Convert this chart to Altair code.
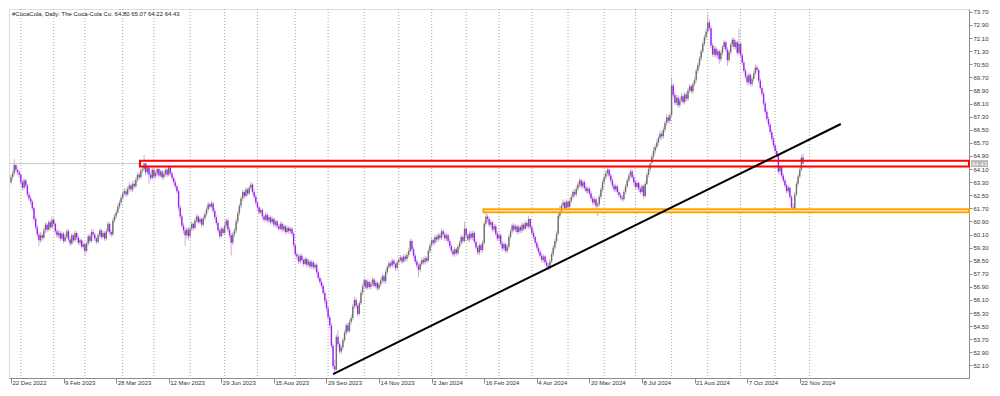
import altair as alt
import pandas as pd

# ---------------- data ----------------
first_open = 63.30
closes = [
    63.60, 63.85, 64.35, 64.05, 63.90, 63.75, 63.30, 62.95, 63.40, 63.10,
    62.55, 62.30, 62.10, 61.70, 61.05, 60.55, 60.10, 59.75, 60.05, 59.90,
    60.35, 60.70, 60.40, 60.85, 60.55, 61.00, 60.75, 60.30, 60.05, 60.20,
    59.85, 60.15, 59.70, 59.95, 60.30, 59.80, 59.55, 60.05, 59.75, 60.20,
    59.90, 59.60, 59.75, 59.35, 59.50, 59.10, 59.55, 60.00, 59.70, 60.25,
    60.10, 59.85, 59.65, 60.05, 60.35, 59.95, 60.20, 59.85, 60.30, 60.75,
    60.25, 60.10, 60.95, 61.20, 61.45, 61.80, 62.05, 62.35, 62.60, 62.75,
    62.55, 62.90, 63.10, 62.85, 63.20, 63.05, 63.45, 63.75, 63.60, 64.00,
    64.10, 64.45, 63.90, 64.20, 63.75, 63.55, 64.05, 63.65, 63.85, 64.10,
    63.70, 63.95, 63.60, 63.80, 64.05, 63.75, 64.20, 63.85, 63.55, 63.30,
    63.05, 62.75, 61.75, 61.20, 60.65, 60.35, 60.05, 60.40, 60.00, 60.45,
    60.75, 60.50, 60.95, 61.20, 60.85, 61.05, 60.70, 61.10, 61.35, 61.65,
    61.95, 61.80, 62.00, 61.55, 61.15, 60.80, 60.35, 60.00, 60.45, 60.20,
    60.65, 60.95, 60.40, 60.05, 59.60, 60.10, 60.35, 60.90, 61.40, 61.85,
    62.30, 62.70, 62.45, 62.85, 62.60, 62.95, 63.15, 62.70, 62.40, 62.05,
    61.75, 61.45, 61.60, 61.20, 61.00, 61.30, 60.95, 61.15, 60.85, 61.05,
    60.70, 60.90, 60.60, 60.45, 60.75, 60.40, 60.60, 60.25, 60.50, 60.30,
    60.45, 60.15, 59.45, 58.90, 58.75, 58.45, 58.80, 58.55, 58.30, 58.60,
    58.25, 58.45, 58.15, 58.40, 58.10, 58.25, 57.80, 57.45, 57.20, 56.95,
    56.55, 56.05, 55.60, 55.05, 54.55, 53.30, 52.05, 51.85, 53.85, 53.40,
    52.95, 53.20, 53.65, 54.10, 54.55, 54.20, 54.75, 55.00, 55.70, 56.10,
    55.75, 55.25, 55.90, 56.55, 56.95, 57.30, 56.85, 57.20, 56.90, 57.10,
    57.35, 56.95, 57.15, 56.80, 57.05, 57.30, 57.55, 57.25, 57.80, 58.10,
    58.35, 58.20, 58.50, 58.30, 58.05, 58.40, 58.55, 58.70, 58.45, 58.75,
    58.60, 58.85, 59.10, 59.70, 59.20, 58.80, 58.45, 58.20, 57.95, 58.30,
    58.55, 58.40, 58.65, 58.50, 59.10, 59.45, 59.75, 59.60, 59.95, 59.80,
    60.05, 59.90, 60.30, 60.10, 59.85, 60.05, 59.70, 59.40, 59.10, 58.90,
    59.20, 58.95, 59.35, 59.60, 59.95, 59.70, 60.45, 60.05, 59.80, 60.15,
    59.90, 60.20, 59.65, 59.30, 59.00, 59.45, 59.15, 59.60, 60.75, 61.20,
    61.05, 60.70, 60.85, 60.40, 60.60, 60.15, 59.85, 60.05, 59.55, 59.25,
    59.50, 59.10, 59.35, 59.95, 60.30, 60.65, 60.40, 60.60, 60.25, 60.55,
    60.35, 60.70, 60.45, 60.80, 60.60, 61.05, 60.55, 60.20, 59.95, 59.60,
    59.30, 59.05, 58.80, 58.55, 58.75, 58.40, 58.20, 58.05, 58.45, 58.90,
    59.30, 59.70, 60.15, 61.25, 61.50, 61.85, 62.05, 61.70, 62.10, 61.80,
    62.15, 62.40, 62.70, 62.55, 62.90, 63.15, 63.40, 63.05, 63.30, 62.95,
    62.75, 62.90, 62.60, 62.30, 62.05, 62.25, 61.85, 61.95, 62.40, 62.85,
    63.30, 63.60, 63.85, 64.05, 63.70, 63.40, 63.10, 62.85, 63.05, 62.70,
    62.50, 62.35, 62.25, 62.70, 63.05, 63.40, 63.70, 63.95, 63.60, 63.30,
    63.00, 63.25, 62.90, 62.70, 63.05, 62.45, 63.20, 63.75, 64.10, 64.45,
    64.85, 65.20, 65.45, 65.70, 66.00, 66.25, 66.10, 66.50, 66.90, 67.25,
    67.05, 67.40, 69.20, 68.60, 68.15, 68.45, 68.00, 68.30, 68.55, 68.20,
    68.65, 68.40, 68.90, 69.15, 68.85, 69.30, 69.55, 70.10, 70.45, 70.85,
    71.30, 71.75, 72.15, 72.50, 73.05, 72.70, 71.65, 71.10, 71.45, 71.05,
    71.30, 70.80, 71.20, 71.55, 71.85, 71.40, 70.75, 71.25, 71.70, 72.00,
    71.55, 71.85, 71.20, 71.75, 71.05, 70.60, 70.10, 69.75, 69.40, 69.85,
    69.30, 69.60, 69.95, 70.30, 70.15, 69.50, 69.05, 68.70, 68.10, 67.60,
    67.15, 66.80, 66.35, 65.95, 65.55, 65.20, 64.95, 63.95, 64.25, 63.70,
    63.40, 63.10, 62.75, 62.95, 62.40, 61.75, 61.70, 62.55, 63.20, 63.65,
    64.05, 64.80, 64.43,
]
highs = [
    63.75, 64.00, 64.70, 64.40, 64.20, 64.05, 63.85, 63.45, 63.55, 63.50,
    63.20, 62.70, 62.45, 62.20, 61.80, 61.20, 60.70, 60.25, 60.25, 60.20,
    60.50, 60.85, 60.80, 61.00, 60.95, 61.20, 61.10, 60.85, 60.45, 60.40,
    60.35, 60.30, 60.25, 60.10, 60.45, 60.40, 59.95, 60.20, 60.15, 60.35,
    60.30, 60.05, 59.90, 59.85, 59.65, 59.60, 59.70, 60.15, 60.10, 60.40,
    60.45, 60.20, 59.95, 60.20, 60.50, 60.45, 60.35, 60.30, 60.45, 60.90,
    60.85, 60.40, 61.10, 61.35, 61.60, 61.95, 62.20, 62.50, 62.75, 62.95,
    62.90, 63.05, 63.30, 63.20, 63.35, 63.40, 63.60, 63.90, 63.90, 64.15,
    64.30, 64.95, 64.55, 64.40, 64.30, 63.90, 64.20, 64.15, 64.00, 64.25,
    64.20, 64.05, 64.05, 63.95, 64.15, 64.15, 64.30, 64.30, 63.95, 63.65,
    63.45, 63.15, 62.85, 61.90, 61.35, 60.80, 60.50, 60.55, 60.55, 60.60,
    60.90, 60.85, 61.10, 61.35, 61.30, 61.20, 61.15, 61.25, 61.50, 61.80,
    62.10, 62.05, 62.15, 62.10, 61.70, 61.30, 60.95, 60.50, 60.60, 60.55,
    60.80, 61.10, 61.05, 60.55, 60.20, 60.25, 60.50, 61.05, 61.55, 62.00,
    62.45, 62.85, 62.80, 63.00, 62.95, 63.10, 63.30, 63.25, 62.85, 62.55,
    62.15, 61.85, 61.75, 61.70, 61.35, 61.45, 61.40, 61.30, 61.25, 61.20,
    61.15, 61.00, 61.00, 60.75, 60.90, 60.85, 60.75, 60.70, 60.65, 60.60,
    60.60, 60.55, 60.25, 59.55, 59.05, 58.90, 58.95, 58.90, 58.65, 58.75,
    58.70, 58.60, 58.55, 58.55, 58.50, 58.40, 58.35, 57.95, 57.60, 57.35,
    57.10, 56.70, 56.20, 55.75, 55.20, 54.70, 53.45, 52.45, 54.00, 54.25,
    53.55, 53.35, 53.80, 54.25, 54.70, 54.70, 54.90, 55.20, 55.85, 56.30,
    56.25, 55.90, 56.05, 56.70, 57.10, 57.45, 57.40, 57.35, 57.30, 57.25,
    57.50, 57.45, 57.30, 57.25, 57.20, 57.45, 57.70, 57.65, 57.95, 58.25,
    58.50, 58.45, 58.65, 58.60, 58.40, 58.55, 58.70, 58.85, 58.80, 58.90,
    58.90, 59.00, 59.25, 59.85, 59.80, 59.35, 58.95, 58.60, 58.35, 58.45,
    58.70, 58.70, 58.80, 58.75, 59.25, 59.60, 59.90, 59.85, 60.10, 60.05,
    60.20, 60.20, 60.45, 60.40, 60.25, 60.20, 60.15, 59.85, 59.55, 59.25,
    59.35, 59.30, 59.50, 59.75, 60.10, 60.05, 60.90, 60.55, 60.20, 60.30,
    60.30, 60.35, 60.30, 59.80, 59.45, 59.60, 59.55, 59.75, 60.90, 61.50,
    61.35, 61.20, 61.00, 60.95, 60.75, 60.75, 60.30, 60.20, 60.15, 59.70,
    59.65, 59.60, 59.50, 60.10, 60.45, 60.80, 60.75, 60.75, 60.70, 60.70,
    60.65, 60.85, 60.80, 60.95, 60.90, 61.25, 61.10, 60.65, 60.35, 60.05,
    59.70, 59.45, 59.20, 58.95, 58.90, 58.85, 58.55, 58.35, 58.60, 59.05,
    59.45, 59.85, 60.30, 61.45, 61.85, 62.00, 62.25, 62.15, 62.25, 62.20,
    62.30, 62.55, 62.85, 62.85, 63.05, 63.30, 63.55, 63.50, 63.45, 63.40,
    63.10, 63.05, 63.00, 62.75, 62.45, 62.40, 62.35, 62.10, 62.55, 63.00,
    63.45, 63.75, 64.00, 64.20, 64.15, 63.85, 63.55, 63.20, 63.20, 63.15,
    62.85, 62.65, 62.50, 62.85, 63.20, 63.55, 63.85, 64.10, 64.05, 63.75,
    63.45, 63.40, 63.35, 63.05, 63.20, 63.15, 63.35, 63.90, 64.25, 64.60,
    65.00, 65.45, 65.60, 65.90, 66.15, 66.45, 66.40, 66.65, 67.05, 67.45,
    67.40, 67.55, 69.70, 69.35, 68.80, 68.65, 68.60, 68.45, 68.75, 68.70,
    68.80, 68.80, 69.05, 69.30, 69.25, 69.45, 69.70, 70.25, 70.60, 71.00,
    71.45, 71.90, 72.30, 72.70, 73.55, 73.25, 72.85, 71.80, 71.65, 71.60,
    71.45, 71.40, 71.35, 71.70, 72.00, 71.95, 71.55, 71.40, 71.85, 72.15,
    72.10, 72.00, 71.95, 72.70, 71.90, 71.20, 70.75, 70.25, 69.90, 70.00,
    69.95, 69.75, 70.10, 70.50, 70.45, 70.25, 69.65, 69.20, 68.85, 68.25,
    67.75, 67.30, 66.95, 66.50, 66.10, 65.70, 65.35, 64.30, 64.40, 64.35,
    63.85, 63.55, 63.20, 63.10, 63.05, 62.50, 62.00, 62.70, 63.35, 63.80,
    64.20, 64.95, 65.07,
]
lows = [
    63.15, 63.45, 63.70, 63.90, 63.75, 63.55, 63.15, 62.80, 62.85, 62.95,
    62.40, 62.15, 61.90, 61.55, 60.90, 60.40, 59.95, 59.40, 59.60, 59.70,
    59.80, 60.20, 60.25, 60.30, 60.40, 60.45, 60.60, 60.15, 59.90, 59.90,
    59.70, 59.75, 59.55, 59.60, 59.85, 59.65, 59.40, 59.45, 59.60, 59.65,
    59.75, 59.45, 59.45, 59.25, 59.20, 58.80, 59.00, 59.40, 59.55, 59.60,
    59.95, 59.70, 59.50, 59.55, 59.90, 59.80, 59.85, 59.70, 59.75, 60.20,
    60.10, 59.95, 60.00, 60.80, 61.05, 61.35, 61.65, 61.90, 62.20, 62.45,
    62.40, 62.45, 62.75, 62.70, 62.70, 62.90, 62.95, 63.30, 63.45, 63.50,
    63.85, 63.95, 63.70, 63.75, 63.20, 63.40, 63.45, 63.50, 63.50, 63.70,
    63.55, 63.60, 63.45, 63.45, 63.65, 63.60, 63.65, 63.70, 63.40, 63.15,
    62.90, 62.60, 61.55, 61.05, 60.50, 60.15, 59.40, 59.85, 59.75, 59.90,
    60.30, 60.35, 60.40, 60.80, 60.70, 60.75, 60.55, 60.60, 60.95, 61.20,
    61.50, 61.65, 61.70, 61.40, 61.00, 60.65, 60.20, 59.85, 59.90, 60.05,
    60.05, 60.50, 60.25, 59.90, 58.80, 59.45, 59.95, 60.20, 60.75, 61.25,
    61.70, 62.15, 62.30, 62.35, 62.45, 62.50, 62.80, 62.55, 62.25, 61.90,
    61.60, 61.30, 61.35, 61.05, 60.85, 60.90, 60.80, 60.80, 60.70, 60.75,
    60.55, 60.55, 60.45, 60.30, 60.35, 60.25, 60.30, 60.10, 60.15, 60.15,
    60.15, 60.00, 59.30, 58.75, 58.55, 58.30, 58.30, 58.40, 58.15, 58.20,
    58.10, 58.10, 58.00, 58.00, 57.95, 57.95, 57.65, 57.30, 57.05, 56.80,
    56.40, 55.85, 55.40, 54.90, 54.35, 53.15, 51.90, 51.50, 51.80, 53.20,
    52.80, 52.80, 53.05, 53.50, 53.95, 54.05, 54.10, 54.60, 54.85, 55.55,
    55.60, 55.10, 55.15, 55.80, 56.40, 56.80, 56.70, 56.75, 56.75, 56.75,
    56.95, 56.85, 56.80, 56.65, 56.70, 56.90, 57.15, 57.10, 57.10, 57.65,
    57.95, 58.05, 58.05, 58.15, 57.90, 57.90, 58.25, 58.40, 58.30, 58.35,
    58.45, 58.45, 58.70, 59.00, 59.05, 58.65, 58.30, 58.05, 57.50, 57.80,
    58.15, 58.25, 58.25, 58.35, 58.40, 58.95, 59.30, 59.45, 59.45, 59.65,
    59.65, 59.75, 59.75, 59.95, 59.70, 59.70, 59.55, 59.25, 58.95, 58.75,
    58.75, 58.80, 58.85, 59.20, 59.45, 59.55, 59.60, 59.90, 59.65, 59.65,
    59.75, 59.75, 59.50, 59.15, 58.85, 58.85, 59.00, 59.00, 59.45, 60.60,
    60.85, 60.55, 60.55, 60.25, 60.25, 60.00, 59.70, 59.70, 59.40, 59.10,
    59.10, 58.95, 58.95, 59.20, 59.80, 60.15, 60.25, 60.25, 60.10, 60.10,
    60.20, 60.20, 60.30, 60.35, 60.45, 60.45, 60.40, 60.05, 59.80, 59.45,
    59.15, 58.90, 58.65, 58.40, 58.40, 58.25, 58.05, 57.90, 57.95, 58.35,
    58.75, 59.15, 59.55, 60.05, 61.05, 61.35, 61.70, 61.55, 61.55, 61.65,
    61.65, 62.00, 62.25, 62.40, 62.40, 62.75, 63.00, 62.90, 62.90, 62.80,
    62.60, 62.60, 62.45, 62.15, 61.90, 61.90, 61.70, 61.20, 61.80, 62.25,
    62.70, 63.15, 63.45, 63.70, 63.55, 63.25, 62.95, 62.70, 62.70, 62.55,
    62.35, 62.20, 62.10, 62.15, 62.55, 62.90, 63.25, 63.55, 63.45, 63.15,
    62.85, 62.85, 62.75, 62.55, 62.55, 62.30, 62.35, 63.10, 63.60, 63.95,
    64.30, 64.70, 65.00, 65.30, 65.55, 65.85, 65.90, 65.95, 66.35, 66.75,
    66.90, 66.85, 67.30, 68.45, 68.00, 68.00, 67.85, 67.85, 68.15, 68.05,
    68.05, 68.25, 68.25, 68.75, 68.70, 68.70, 69.15, 69.40, 69.95, 70.30,
    70.70, 71.15, 71.60, 72.00, 72.35, 72.55, 71.50, 70.95, 70.95, 70.90,
    70.85, 70.50, 70.65, 71.05, 71.40, 71.25, 70.40, 70.60, 71.10, 71.55,
    71.40, 71.40, 71.05, 71.05, 70.90, 70.45, 69.95, 69.60, 69.20, 69.25,
    69.15, 69.15, 69.45, 69.80, 70.00, 69.35, 68.90, 68.55, 67.95, 67.45,
    67.00, 66.65, 66.20, 65.80, 65.40, 65.05, 64.80, 63.80, 63.75, 63.55,
    63.25, 62.95, 62.60, 62.60, 62.25, 61.60, 61.40, 61.55, 62.45, 63.05,
    63.55, 63.95, 64.22,
]

x_tick_bars = [0, 32, 64, 96, 128, 160, 192, 224, 256, 288, 320, 352, 384, 416, 448, 480]
x_tick_labels = ["22 Dec 2022", "9 Feb 2023", "28 Mar 2023", "12 May 2023", "29 Jun 2023",
                 "15 Aug 2023", "29 Sep 2023", "14 Nov 2023", "2 Jan 2024", "16 Feb 2024",
                 "4 Apr 2024", "20 May 2024", "8 Jul 2024", "21 Aug 2024", "7 Oct 2024",
                 "22 Nov 2024"]
month_start_bars = [6, 26, 45, 68, 87, 109, 130, 150, 173, 193, 215, 236, 256, 277, 297,
                    317, 339, 361, 380, 402, 424, 444, 465, 486]
y_ticks = [52.10, 52.90, 53.70, 54.50, 55.30, 56.10, 56.90, 57.70, 58.50, 59.30, 60.10,
           60.90, 61.70, 62.50, 63.30, 64.10, 64.90, 65.70, 66.50, 67.30, 68.10, 68.90,
           69.70, 70.50, 71.30, 72.10, 72.90, 73.70]
x_domain = [-1.2, 583]
y_domain = [51.335, 73.876]

red_zone_bars = [78.5, 583]
red_zone_prices = [64.25, 64.60]
orange_zone_bars = [287.5, 583]
orange_zone_prices = [61.46, 61.64]
trend_bars = [196, 505]
trend_prices = [51.57, 66.85]
title_text = "#CocaCola, Daily:  The Coca-Cola Co.  64.80 65.07 64.22 64.43"

# ---------------- build tables ----------------
n = len(closes)
opens = [first_open] + closes[:-1]
df = pd.DataFrame({"bar": list(range(n)), "open": opens, "close": closes,
                   "high": highs, "low": lows})
df["high"] = df[["high", "open", "close"]].max(axis=1)
df["low"] = df[["low", "open", "close"]].min(axis=1)
up = df["close"] >= df["open"]
df["body_col"] = ["#6e6e6e" if u else "#a020f0" for u in up]
df["wick_col"] = ["#bdbdbd" if u else "#d7a6f7" for u in up]

W, H = 960, 369
FONT = "Liberation Sans"

xs = alt.Scale(domain=x_domain, nice=False, zero=False)
ys = alt.Scale(domain=y_domain, nice=False, zero=False)

label_expr = ("[" + ",".join("'%s'" % s for s in x_tick_labels) + "][indexof(["
              + ",".join(str(v) for v in x_tick_bars) + "], datum.value)]")

x_axis = alt.Axis(values=x_tick_bars, tickCount=len(x_tick_bars) + 4, labelExpr=label_expr,
                  orient="bottom", grid=False,
                  tickSize=5, labelAlign="left", labelBaseline="top", labelPadding=-4,
                  labelOffset=1, labelFontSize=6, labelFont=FONT, labelColor="#333333",
                  domainColor="#8c8c8c", tickColor="#8c8c8c", labelOverlap=False,
                  labelFlush=False, title=None)
y_axis = alt.Axis(values=y_ticks, tickCount=len(y_ticks) + 4, format=".2f", orient="right",
                  grid=False, tickSize=3,
                  labelPadding=1, labelFontSize=6, labelFont=FONT, labelColor="#333333",
                  domainColor="#8c8c8c", tickColor="#8c8c8c", labelOverlap=False,
                  labelFlush=False, title=None)

# first layer carries both axes
wicks = alt.Chart(df).mark_rule(strokeWidth=1).encode(
    x=alt.X("bar:Q", scale=xs, axis=x_axis),
    y=alt.Y("low:Q", scale=ys, axis=y_axis), y2="high:Q",
    color=alt.Color("wick_col:N", scale=None))

grid = alt.Chart(pd.DataFrame({"bar": month_start_bars})).mark_rule(
    color="#a8a8a8", strokeDash=[1, 2], strokeWidth=1
).encode(x=alt.X("bar:Q", scale=xs))

bid = alt.Chart(pd.DataFrame({"p": [closes[-1]]})).mark_rule(
    color="#c8c8c8", strokeWidth=1
).encode(y=alt.Y("p:Q", scale=ys))

zones = pd.DataFrame({
    "x1": [red_zone_bars[0], orange_zone_bars[0]],
    "x2": [red_zone_bars[1], orange_zone_bars[1]],
    "y1": [red_zone_prices[0], orange_zone_prices[0]],
    "y2": [red_zone_prices[1], orange_zone_prices[1]],
    "stroke": ["#ff0000", "#ffa500"],
    "fill": ["#fbfbfb", "#fffaf0"],
})
zone_fill = alt.Chart(zones).mark_rect(strokeWidth=0).encode(
    x=alt.X("x1:Q", scale=xs), x2="x2:Q",
    y=alt.Y("y1:Q", scale=ys), y2="y2:Q",
    fill=alt.Fill("fill:N", scale=None))
zone_edge = alt.Chart(zones).mark_rect(fillOpacity=0, strokeWidth=2).encode(
    x=alt.X("x1:Q", scale=xs), x2="x2:Q",
    y=alt.Y("y1:Q", scale=ys), y2="y2:Q",
    stroke=alt.Stroke("stroke:N", scale=None))

bodies = alt.Chart(df).mark_rule(strokeWidth=1.4).encode(
    x=alt.X("bar:Q", scale=xs),
    y=alt.Y("open:Q", scale=ys), y2="close:Q",
    color=alt.Color("body_col:N", scale=None))

trend = alt.Chart(pd.DataFrame({"bar": trend_bars, "p": trend_prices})).mark_line(
    color="#000000", strokeWidth=2
).encode(x=alt.X("bar:Q", scale=xs), y=alt.Y("p:Q", scale=ys))

title = alt.Chart(pd.DataFrame({"t": [title_text]})).mark_text(
    align="left", baseline="middle", fontSize=6, font=FONT, color="#222222"
).encode(x=alt.value(3), y=alt.value(5), text="t:N")

bid_box = alt.Chart(pd.DataFrame({"p1": [closes[-1] - 0.21], "p2": [closes[-1] + 0.21]})).mark_rect(
    color="#b4b4b4"
).encode(x=alt.value(W + 2), x2=alt.value(W + 19),
         y=alt.Y("p1:Q", scale=ys), y2="p2:Q")
bid_text = alt.Chart(pd.DataFrame({"p": [closes[-1]], "t": ["%.2f" % closes[-1]]})).mark_text(
    align="left", baseline="middle", fontSize=6, font=FONT, color="#ffffff"
).encode(x=alt.value(W + 3), y=alt.Y("p:Q", scale=ys), text="t:N")

chart = alt.layer(wicks, grid, bid, zone_fill, bodies, zone_edge, trend, title,
                  bid_box, bid_text).properties(
    width=W, height=H, padding=0
).configure_view(stroke="#8c8c8c", strokeWidth=1).configure_axis(
    grid=False, labelOverlap=False
).configure(background="#ffffff")

chart.save("out.html", embed_options={"renderer": "svg", "actions": False})
